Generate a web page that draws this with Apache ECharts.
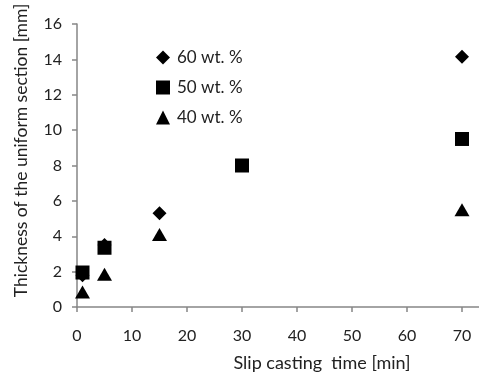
<!DOCTYPE html>
<html><head><meta charset="utf-8">
<script src="https://cdn.jsdelivr.net/npm/echarts@6/dist/echarts.min.js"></script>
<style>html,body{margin:0;padding:0;background:#fff}#c{width:479px;height:374px}</style>
</head><body><div id="c"></div>
<script>
const seriesNames = ['60 wt. %', '50 wt. %', '40 wt. %'];
const wt60 = [[1, 1.8], [5, 3.5], [15, 5.3], [70, 14.15]];
const wt50 = [[1, 1.95], [5, 3.35], [30, 8.0], [70, 9.5]];
const wt40 = [[1, 0.85], [5, 1.85], [15, 4.1], [70, 5.5]];
const xTicks = [0, 10, 20, 30, 40, 50, 60, 70, 80];
const yTicks = [0, 2, 4, 6, 8, 10, 12, 14, 16];

const font = 'Lato, "Open Sans", sans-serif';
const axisColor = '#868686';
const chart = echarts.init(document.getElementById('c'));
chart.setOption({
  animation: false,
  grid: { left: 77, top: 24, bottom: 67, width: 440, containLabel: false, outerBoundsMode: 'none' },
  legend: {
    orient: 'vertical', left: 151, top: 44,
    itemWidth: 14, itemHeight: 14, itemGap: 13,
    textStyle: { fontFamily: font, fontSize: 17, color: '#222', padding: [0, 0, 0, 2] },
    data: seriesNames
  },
  xAxis: {
    type: 'value', min: xTicks[0], max: xTicks[xTicks.length - 1], interval: 10,
    name: 'Slip casting  time [min]', nameLocation: 'middle', nameGap: 47,
    nameTextStyle: { fontFamily: font, fontSize: 18, color: '#222', padding: [0, 0, 0, 50] },
    axisLine: { lineStyle: { color: axisColor, width: 1.5 } },
    axisTick: { show: true, length: 5, lineStyle: { color: axisColor, width: 1.5 } },
    axisLabel: { fontFamily: font, fontSize: 16, color: '#222', margin: 21 },
    splitLine: { show: false }
  },
  yAxis: {
    type: 'value', min: yTicks[0], max: yTicks[yTicks.length - 1], interval: 2,
    name: 'Thickness of the uniform section [mm]', nameLocation: 'middle', nameGap: 47,
    nameTextStyle: { fontFamily: font, fontSize: 17.5, color: '#222', padding: [0, 0, 0, 30] },
    axisLine: { show: true, lineStyle: { color: axisColor, width: 1.5 } },
    axisTick: { show: true, length: 5, lineStyle: { color: axisColor, width: 1.5 } },
    axisLabel: { fontFamily: font, fontSize: 16, color: '#222', margin: 15 },
    splitLine: { show: false }
  },
  series: [
    { name: seriesNames[0], type: 'scatter', symbol: 'diamond', symbolSize: 14, data: wt60, itemStyle: { color: '#000', opacity: 1 }, z: 3 },
    { name: seriesNames[1], type: 'scatter', symbol: 'rect', symbolSize: 14, data: wt50, itemStyle: { color: '#000', opacity: 1 }, z: 4 },
    { name: seriesNames[2], type: 'scatter', symbol: 'triangle', symbolSize: [15, 13], data: wt40, itemStyle: { color: '#000', opacity: 1 }, z: 5 }
  ]
});
</script></body></html>
